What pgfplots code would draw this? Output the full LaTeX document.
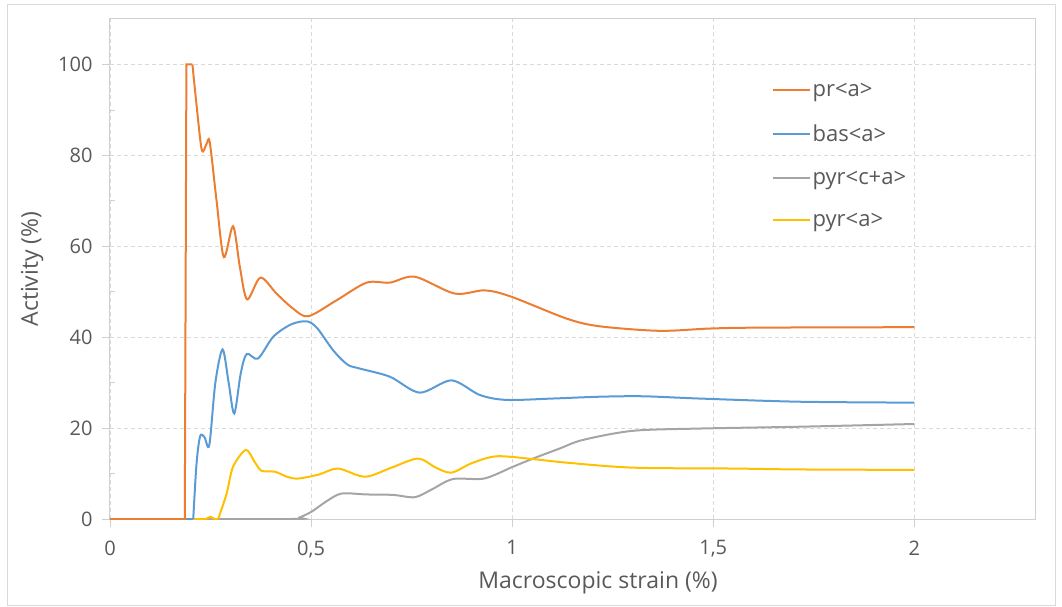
\documentclass[border=0pt]{standalone}
\usepackage{pgfplots}
\pgfplotsset{compat=1.18}
\usepackage{fontspec}
\setmainfont{Open Sans}
\definecolor{cpr}{HTML}{ED7D31}
\definecolor{cbas}{HTML}{5B9BD5}
\definecolor{cpyrca}{HTML}{A5A5A5}
\definecolor{cpyra}{HTML}{FFC000}
\definecolor{txt}{HTML}{595959}
\definecolor{gridc}{HTML}{D9D9D9}
\definecolor{axc}{HTML}{D0D0D0}
\begin{document}
\begin{tikzpicture}
\path[use as bounding box] (-110pt,-88pt) rectangle (952pt,519pt);
\draw[gridc, line width=1pt] (-102pt,-86pt) rectangle (945pt,514pt);
\begin{axis}[
  at={(0pt,0pt)}, anchor=south west,
  scale only axis, width=925pt, height=500pt,
  xmin=0, xmax=2.3, ymin=0, ymax=110,
  xtick={0,0.5,1,1.5,2}, xticklabels={0,{0,5},1,{1,5},2},
  ytick={0,20,40,60,80,100}, yticklabels={0,20,40,60,80,100},
  extra y ticks={10,30,50,70,90}, extra y tick labels={},
  extra y tick style={grid=none, tick align=inside, major tick length=5pt},
  grid=major,
  major grid style={gridc, dash pattern=on 4pt off 3pt, line width=0.8pt},
  axis line style={axc, line width=1pt},
  tick style={axc, line width=0.8pt},
  tick align=outside, major tick length=8pt,
  xtick pos=bottom, ytick pos=left,
  ticklabel style={font=\fontsize{20}{24}\selectfont, text=txt},
  xticklabel style={yshift=-10pt},
  yticklabel style={xshift=-6pt},
  xlabel={Macroscopic strain (\%)},
  ylabel={Activity (\%)},
  label style={font=\fontsize{23}{27}\selectfont, text=txt},
  xlabel style={at={(axis description cs:0.5276,-0.128)}, anchor=center},
  ylabel style={at={(axis description cs:-0.084,0.5)}, anchor=center},
  legend style={draw=none, fill=none, at={(axis description cs:0.715,0.881)}, anchor=north west,
    font=\fontsize{22}{26}\selectfont, text=txt, row sep=23.5pt, inner xsep=0pt},
  legend cell align=left,
  legend image code/.code={\draw[#1, line width=2pt] (0pt,0pt) -- (37pt,0pt);},
  every axis plot/.append style={line width=2pt},
]
\addlegendimage{cpr}\addlegendentry{pr<a>}
\addlegendimage{cbas}\addlegendentry{bas<a>}
\addlegendimage{cpyrca}\addlegendentry{pyr<c+a>}
\addlegendimage{cpyra}\addlegendentry{pyr<a>}

% pyr<c+a>
\addplot[cpyrca, smooth, forget plot] coordinates {
(0,0)(0.45,0)(0.47,0.3)(0.501,1.6)(0.54,4)(0.576,5.6)(0.638,5.4)(0.704,5.3)(0.758,4.8)(0.80,6.5)(0.853,8.8)(0.93,8.9)(1.002,11.5)(1.052,13.3)(1.118,15.5)(1.176,17.4)(1.300,19.4)(1.466,19.9)(1.714,20.3)(2.0,20.9)};

% pyr<a>
\addplot[cpyra, forget plot] coordinates {(0,0)(0.238,0)(0.25,0.5)(0.26,0)(0.269,0)};
\addplot[cpyra, smooth, forget plot] coordinates {
(0.269,0)(0.290,5.6)(0.306,11.5)(0.338,15.2)(0.36,12.5)(0.377,10.6)(0.41,10.4)(0.44,9.3)(0.468,8.9)(0.52,9.8)(0.567,11.1)(0.634,9.3)(0.70,11.3)(0.766,13.3)(0.81,11.3)(0.849,10.2)(0.90,12.3)(0.961,13.8)(1.05,13.2)(1.135,12.4)(1.300,11.3)(1.549,11.1)(1.714,10.9)(2.0,10.8)};

% bas<a>
\addplot[cbas, forget plot] coordinates {(0,0)(0.207,0)};
\addplot[cbas, smooth, forget plot] coordinates {
(0.207,0)(0.215,12)(0.224,18.2)(0.235,18)(0.247,16.3)(0.262,30)(0.280,37.3)(0.295,30)(0.309,23.2)(0.325,32)(0.340,36.3)(0.368,35.3)(0.406,40.1)(0.45,42.8)(0.489,43.5)(0.515,42)(0.555,37.1)(0.59,34)(0.621,33.1)(0.696,31.3)(0.770,27.8)(0.849,30.5)(0.919,27.3)(0.985,26.2)(1.1,26.5)(1.217,26.9)(1.325,27.0)(1.466,26.5)(1.714,25.8)(2.0,25.6)};

% pr<a>
\addplot[cpr, forget plot] coordinates {(0,0)(0.186,0)(0.19,100)(0.205,100)};
\addplot[cpr, smooth, forget plot] coordinates {
(0.205,100)(0.213,93)(0.228,81.3)(0.24,82.5)(0.248,82.9)(0.265,70)(0.283,57.6)(0.306,64.4)(0.323,55.4)(0.341,48.3)(0.374,53.1)(0.414,49.6)(0.455,46.3)(0.493,44.6)(0.563,48.1)(0.638,52.0)(0.696,52.0)(0.758,53.3)(0.857,49.6)(0.932,50.3)(0.998,48.9)(1.135,44.1)(1.217,42.4)(1.366,41.4)(1.491,41.9)(1.615,42.1)(2.0,42.2)};
\end{axis}
\end{tikzpicture}
\end{document}
